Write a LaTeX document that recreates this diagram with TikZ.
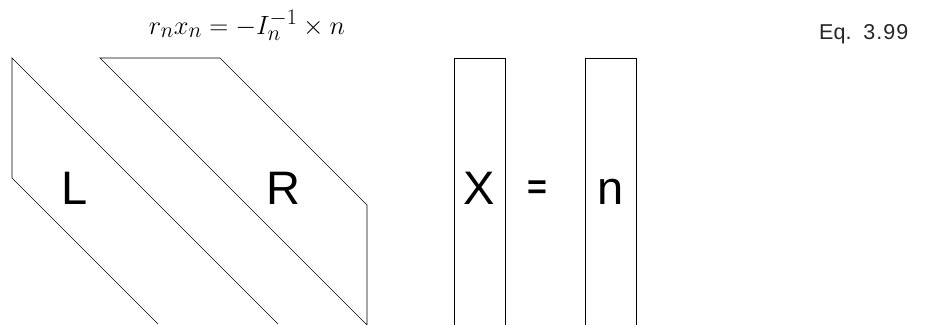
\documentclass[tikz,border=0pt]{standalone}
\usepackage{graphicx}
\usepackage{fontspec}
\setmainfont{Liberation Sans}
\newfontfamily\eqlabelfont{Liberation Sans}
\begin{document}
\begin{tikzpicture}[x=1pt,y=-1pt,
  edge/.style={draw=black,line width=0.7pt},
  bigletter/.style={font=\fontsize{47}{50}\selectfont,inner sep=0pt,anchor=base},
  eqsign/.style={font=\bfseries\fontsize{34}{36}\selectfont,inner sep=0pt,anchor=center},
  formula/.style={font=\fontsize{24.88}{28}\selectfont,inner sep=0pt,anchor=base},
  eqlabel/.style={font=\eqlabelfont\fontsize{21.5}{24}\selectfont,inner sep=0pt,anchor=base west,text=black!85}]
\useasboundingbox (0,0) rectangle (944,324);
\begin{scope}
\clip (0,0) rectangle (944,324);
% L band
\coordinate (la) at (12,58);
\coordinate (lb) at (12,178);
\coordinate (lc) at (158,324);
\coordinate (ld) at (278,324);
\draw[edge] (lc) -- (lb) -- (la) -- (ld);
% R band
\coordinate (ra) at (100,58);
\coordinate (rb) at (220,58);
\coordinate (rc) at (367,205);
\coordinate (rd) at (367,330);
\coordinate (re) at (372,330);
\draw[edge] (re) -- (ra) -- (rb) -- (rc) -- (rd);
% X box
\coordinate (xa) at (454,330);
\coordinate (xb) at (454,58);
\coordinate (xc) at (505,58);
\coordinate (xd) at (505,330);
\draw[edge] (xa) -- (xb) -- (xc) -- (xd);
% n box
\coordinate (na) at (585,330);
\coordinate (nb) at (585,58);
\coordinate (nc) at (636,58);
\coordinate (nd) at (636,330);
\draw[edge] (na) -- (nb) -- (nc) -- (nd);
\end{scope}
\node[bigletter] (L) at (74.5,204) {L};
\node[bigletter] (R) at (283,204) {R};
\node[bigletter] (X) at (479,204) {X};
\node[bigletter] (n) at (610.5,204) {n};
\node[eqsign] (eq) at (537,190) {=};
\node[formula] (f) at (247,34) {\scalebox{1.06}{$r_n x_n = -I_n^{-1} \times n$}};
\node[eqlabel] (lab) at (819,39) {Eq.\ \ 3\kern1pt.\kern1pt9\kern1pt9};
\end{tikzpicture}
\end{document}
